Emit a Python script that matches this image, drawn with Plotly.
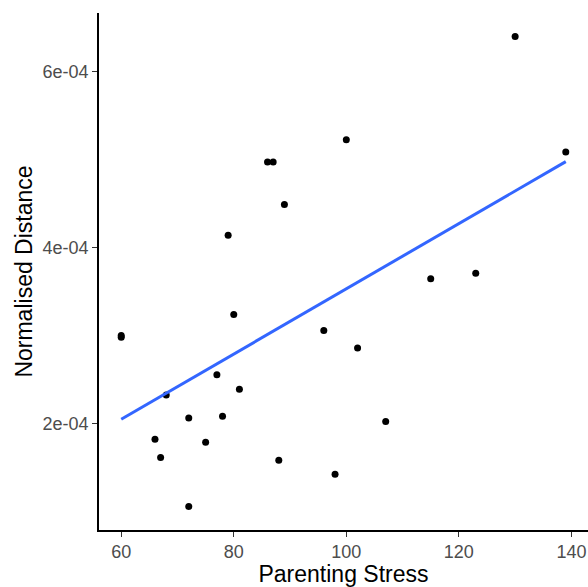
import numpy as np
import plotly.graph_objects as go

parenting_stress = [60, 60, 66, 67, 68, 72, 72, 75, 77, 78, 79, 80, 81, 86, 87, 88, 89,
                    96, 98, 100, 102, 107, 115, 123, 130, 139]
normalised_distance = [3.00e-4, 2.98e-4, 1.822e-4, 1.614e-4, 2.324e-4, 2.064e-4, 1.058e-4,
                       1.788e-4, 2.556e-4, 2.083e-4, 4.14e-4, 3.24e-4, 2.389e-4, 4.972e-4,
                       4.972e-4, 1.584e-4, 4.49e-4, 3.058e-4, 1.425e-4, 5.225e-4, 2.858e-4,
                       2.023e-4, 3.645e-4, 3.708e-4, 6.397e-4, 5.086e-4]
x_ticks = [60, 80, 100, 120, 140]
y_ticks = [2e-4, 4e-4, 6e-4]
y_tick_labels = ["2e-04", "4e-04", "6e-04"]

x = np.array(parenting_stress, dtype=float)
y = np.array(normalised_distance, dtype=float)
slope, intercept = np.polyfit(x, y, 1)
xl = np.array([x.min(), x.max()])
yl = slope * xl + intercept

def expand(a, f=0.05):
    lo, hi = float(np.min(a)), float(np.max(a))
    d = (hi - lo) * f
    return [lo - d, hi + d]

fig = go.Figure()
fig.add_trace(go.Scatter(x=x, y=y, mode="markers",
                         marker=dict(color="black", size=7), hoverinfo="skip"))
fig.add_trace(go.Scatter(x=xl, y=yl, mode="lines",
                         line=dict(color="#3366FF", width=3), hoverinfo="skip"))

font = "Liberation Sans, Arial, sans-serif"
fig.update_layout(
    width=588, height=587,
    margin=dict(l=99, r=0, t=13, b=57, autoexpand=False),
    paper_bgcolor="white", plot_bgcolor="white",
    showlegend=False,
    font=dict(family=font),
    xaxis=dict(range=expand(x), tickvals=x_ticks, showgrid=False, zeroline=False,
               automargin=False,
               showline=True, linecolor="black", linewidth=1.6,
               ticks="outside", ticklen=5, tickwidth=1.2, tickcolor="#333333",
               tickfont=dict(size=18, color="#4D4D4D", family=font),
               title=dict(text="Parenting Stress", font=dict(size=23, color="black", family=font),
                          standoff=12)),
    yaxis=dict(range=expand(y), tickvals=y_ticks, ticktext=y_tick_labels,
               showgrid=False, zeroline=False, automargin=False,
               showline=True, linecolor="black", linewidth=1.6,
               ticks="outside", ticklen=5, tickwidth=1.2, tickcolor="#333333",
               tickfont=dict(size=18, color="#4D4D4D", family=font),
               title=dict(text="Normalised Distance", font=dict(size=23, color="black", family=font),
                          standoff=4)),
)
fig.write_html("out.html", config={"displayModeBar": False},
               post_script="document.body.style.margin='0';document.body.style.overflow='hidden';")
